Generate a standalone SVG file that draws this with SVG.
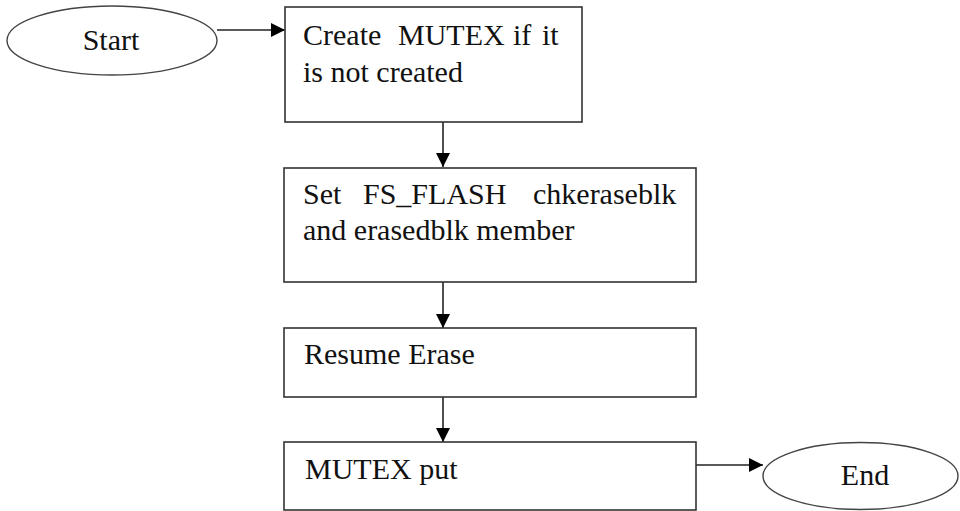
<svg xmlns="http://www.w3.org/2000/svg" width="960" height="511" viewBox="0 0 960 511">
<style>
.box{fill:#fff;stroke:#333;stroke-width:1.6}
.term{fill:#fff;stroke:#444;stroke-width:1.4}
.t{font-family:"Liberation Serif","Times New Roman",serif;font-size:30px;fill:#111}
.c{text-anchor:middle}
.line{stroke:#222;stroke-width:1.6;fill:none}
</style>
<defs>
<marker id="arr" markerUnits="userSpaceOnUse" markerWidth="14" markerHeight="14" viewBox="0 0 14 14" refX="14" refY="7" orient="auto">
<path d="M0,0 L14,7 L0,14 z" fill="#000"/>
</marker>
</defs>
<rect width="960" height="511" fill="#fff"/>
<g id="connectors">
<line class="line" x1="217" y1="30" x2="285" y2="30" marker-end="url(#arr)"/>
<line class="line" x1="443" y1="122" x2="443" y2="167" marker-end="url(#arr)"/>
<line class="line" x1="443" y1="282" x2="443" y2="328" marker-end="url(#arr)"/>
<line class="line" x1="443" y1="397" x2="443" y2="442" marker-end="url(#arr)"/>
<line class="line" x1="696" y1="465" x2="763" y2="465" marker-end="url(#arr)"/>
</g>
<g id="start">
<ellipse class="term" cx="112" cy="40.5" rx="105" ry="34.5"/>
<text class="t c" x="111" y="50">Start</text>
</g>
<g id="create-mutex">
<rect class="box" x="285" y="7" width="297" height="115"/>
<text class="t" y="45"><tspan x="303">Create</tspan><tspan x="398">MUTEX</tspan><tspan x="513">if</tspan><tspan x="542">it</tspan></text>
<text class="t" x="303" y="82">is not created</text>
</g>
<g id="set-fs-flash">
<rect class="box" x="284" y="168" width="412" height="114"/>
<text class="t" y="204"><tspan x="303">Set</tspan><tspan x="363">FS_FLASH</tspan><tspan x="533">chkeraseblk</tspan></text>
<text class="t" x="303" y="240">and erasedblk member</text>
</g>
<g id="resume-erase">
<rect class="box" x="284" y="328" width="412" height="69"/>
<text class="t" x="304" y="364">Resume Erase</text>
</g>
<g id="mutex-put">
<rect class="box" x="284" y="442" width="412" height="68"/>
<text class="t" x="305" y="479">MUTEX put</text>
</g>
<g id="end">
<ellipse class="term" cx="860.5" cy="476" rx="97.5" ry="33.5"/>
<text class="t c" x="865" y="485">End</text>
</g>
</svg>
